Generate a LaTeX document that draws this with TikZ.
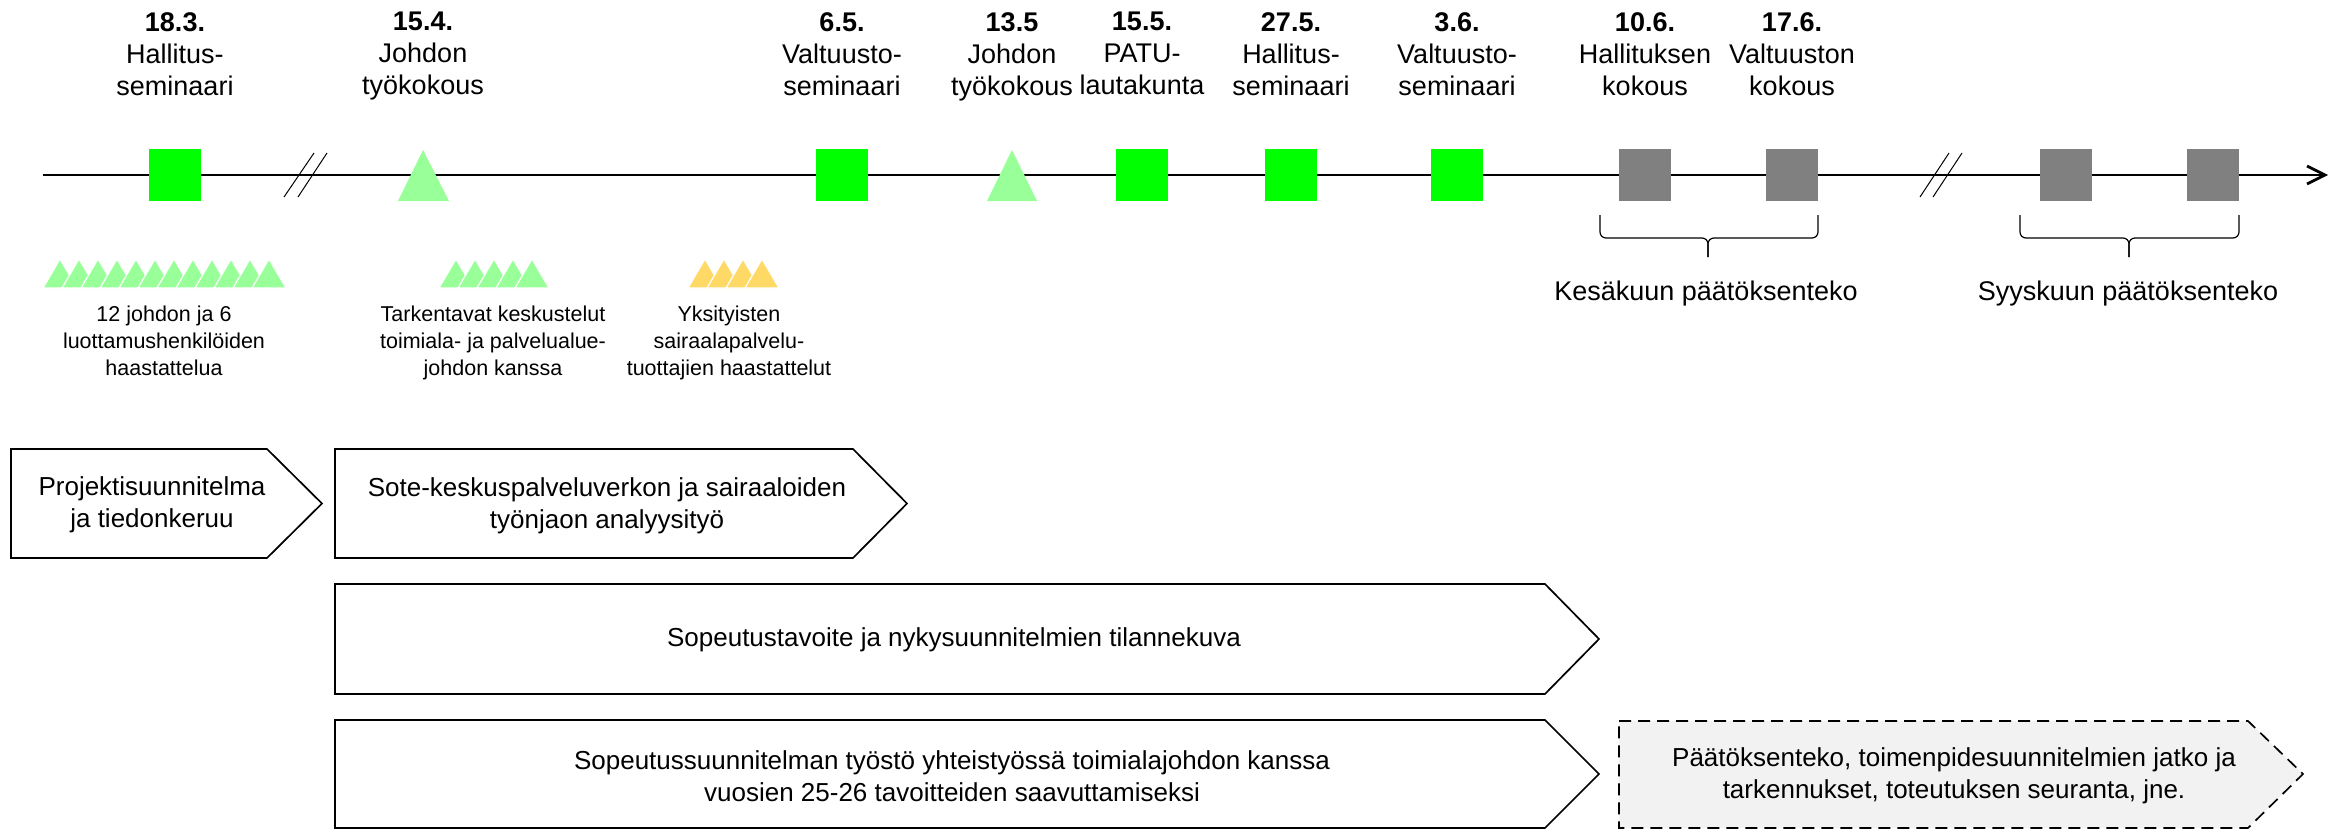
\documentclass[tikz,border=0pt]{standalone}
\usepackage{fontspec}
\setmainfont{Liberation Sans}
\usetikzlibrary{positioning,arrows.meta}

\definecolor{meetgreen}{HTML}{00FF00}
\definecolor{talkgreen}{HTML}{99FF99}
\definecolor{talkyellow}{HTML}{FFD966}
\definecolor{decisiongrey}{HTML}{808080}
\definecolor{laterfill}{HTML}{F2F2F2}

\begin{document}
\begin{tikzpicture}[x=0.5pt,y=-0.5pt,
  event label/.style={anchor=north,align=center,inner sep=0pt,
    font=\fontsize{13.5}{16}\selectfont},
  meeting/.style={rectangle,fill=meetgreen,minimum size=26pt,inner sep=0pt},
  decision/.style={meeting,fill=decisiongrey},
  talk/.style={fill=talkgreen,draw=white,line width=0.6pt},
  phase/.style={draw,line width=0.85pt,fill=white},
  later phase/.style={phase,fill=laterfill,dash pattern=on 6pt off 3.5pt},
  phase text/.style={align=center,inner sep=0pt,font=\fontsize{13}{16}\selectfont},
  talk text/.style={anchor=north,align=center,inner sep=0pt,
    font=\fontsize{10.75}{13.5}\selectfont},
  round label/.style={anchor=base,inner sep=0pt,font=\fontsize{13.5}{16}\selectfont}]

  \useasboundingbox (0,0) rectangle (2336,830);

  % timeline
  \coordinate (start) at (43,175);
  \coordinate (end) at (2328,175);
  \draw[line width=1.35pt,-{Straight Barb[length=9pt,width=9pt]}] (start) -- (end);
  \draw[line width=0.5pt] (284,197) -- (314,153) (298,197) -- (327,153);
  \draw[line width=0.5pt] (1920,197) -- (1949,153) (1933,197) -- (1962,153);

  % meetings on the line
  \node[meeting] (hall1) at (175,175) {};
  \fill[talkgreen] (398,201) -- (423,150) -- (449,201) -- cycle;
  \coordinate (johto1) at (423,175);
  \node[meeting] (valt1) at (842,175) {};
  \fill[talkgreen] (987,201) -- (1012,150) -- (1037,201) -- cycle;
  \coordinate (johto2) at (1012,175);
  \node[meeting] (patu) at (1142,175) {};
  \node[meeting] (hall2) at (1291,175) {};
  \node[meeting] (valt2) at (1457,175) {};
  \node[decision] (hallk) at (1645,175) {};
  \node[decision] (valtk) at (1792,175) {};
  \node[decision] (hallk2) at (2066,175) {};
  \node[decision] (valtk2) at (2213,175) {};

  \coordinate (top) at (0,12);
  \node[event label] at (hall1 |- top) {\textbf{18.3.}\\Hallitus-\\seminaari};
  \node[event label] at (johto1 |- top) {\textbf{15.4.}\\Johdon\\työkokous};
  \node[event label] at (valt1 |- top) {\textbf{6.5.}\\Valtuusto-\\seminaari};
  \node[event label] at (johto2 |- top) {\textbf{13.5}\\Johdon\\työkokous};
  \node[event label] at (patu |- top) {\textbf{15.5.}\\PATU-\\lautakunta};
  \node[event label] at (hall2 |- top) {\textbf{27.5.}\\Hallitus-\\seminaari};
  \node[event label] at (valt2 |- top) {\textbf{3.6.}\\Valtuusto-\\seminaari};
  \node[event label] at (hallk |- top) {\textbf{10.6.}\\Hallituksen\\kokous};
  \node[event label] at (valtk |- top) {\textbf{17.6.}\\Valtuuston\\kokous};

  % interviews
  \foreach \i in {0,...,11}
    \filldraw[talk] ({43+19*\i},288) -- ({60+19*\i},259) -- ({77+19*\i},288) -- cycle;
  \foreach \i in {0,...,4}
    \filldraw[talk] ({439+19*\i},288) -- ({456+19*\i},259) -- ({473+19*\i},288) -- cycle;
  \foreach \i in {0,...,3}
    \filldraw[talk,fill=talkyellow] ({688+19*\i},288) -- ({705+19*\i},259) -- ({722+19*\i},288) -- cycle;

  \node[talk text] (int1) at (164,306) {12 johdon ja 6\\luottamushenkilöiden\\haastattelua};
  \node[talk text] (int2) at (493,306) {Tarkentavat keskustelut\\toimiala- ja palvelualue-\\johdon kanssa};
  \node[talk text] (int3) at (729,306) {Yksityisten\\sairaalapalvelu-\\tuottajien haastattelut};

  % decision rounds
  \draw[line width=0.6pt,rounded corners=3pt] (1600,215) -- (1600,238) -- (1708,238) -- (1708,257);
  \draw[line width=0.6pt,rounded corners=3pt] (1818,215) -- (1818,238) -- (1708,238) -- (1708,257);
  \draw[line width=0.6pt,rounded corners=3pt] (2020,215) -- (2020,238) -- (2129,238) -- (2129,257);
  \draw[line width=0.6pt,rounded corners=3pt] (2239,215) -- (2239,238) -- (2129,238) -- (2129,257);
  \node[round label] (june) at (1706,300) {Kesäkuun päätöksenteko};
  \node[round label] (sept) at (2128,300) {Syyskuun päätöksenteko};

  % phases
  \draw[phase] (11,449) -- (267,449) -- (322,503.5) -- (267,558) -- (11,558) -- cycle;
  \node[phase text] (plan) at (152,505) {Projektisuunnitelma\\ja tiedonkeruu};
  \draw[phase] (335,449) -- (853,449) -- (907,503.5) -- (853,558) -- (335,558) -- cycle;
  \node[phase text] (net) at (607,506) {Sote-keskuspalveluverkon ja sairaaloiden\\työnjaon analyysityö};
  \draw[phase] (335,584) -- (1545,584) -- (1599,639) -- (1545,694) -- (335,694) -- cycle;
  \node[phase text] (goal) at (954,640) {Sopeutustavoite ja nykysuunnitelmien tilannekuva};
  \draw[phase] (335,720) -- (1545,720) -- (1599,774) -- (1545,828) -- (335,828) -- cycle;
  \node[phase text] (adapt) at (952,776) {Sopeutussuunnitelman työstö yhteistyössä toimialajohdon kanssa\\vuosien 25-26 tavoitteiden saavuttamiseksi};
  \draw[later phase] (1619,721) -- (2248,721) -- (2303,774) -- (2248,828) -- (1619,828) -- cycle;
  \node[phase text] (later) at (1954,776) {Päätöksenteko, toimenpidesuunnitelmien jatko ja\\tarkennukset, toteutuksen seuranta, jne.};

\end{tikzpicture}
\end{document}
